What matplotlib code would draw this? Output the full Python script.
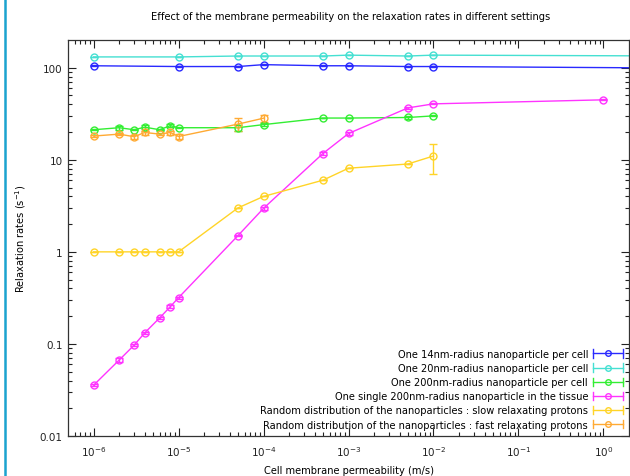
import matplotlib
matplotlib.use("Agg")
import matplotlib.pyplot as plt
from matplotlib.lines import Line2D
from matplotlib.legend_handler import HandlerBase
from matplotlib.ticker import FixedLocator, NullFormatter, LogFormatterSciNotation
import numpy as np

plt.rcParams['font.family'] = ['DejaVu Sans']
FS = 7.1
TFS = 7.5

# ---- data ----
x_a = [1e-6, 1e-5, 5e-5, 1e-4, 5e-4, 1e-3, 5e-3, 1e-2, 10]
x_b = [1e-6, 2e-6, 3e-6, 4e-6, 6e-6, 8e-6, 1e-5, 5e-5, 1e-4, 5e-4, 1e-3, 5e-3, 1e-2]
x_m = x_b + [1]
x_o = [1e-6, 2e-6, 3e-6, 4e-6, 6e-6, 8e-6, 1e-5, 5e-5, 1e-4]

blue_y = [105, 103, 103, 108, 105, 105, 103, 103, 99]
blue_e = [1, 1, 1, 1, 1, 1, 1, 1, 1]
cyan_y = [131, 131, 134, 134, 134, 137, 134, 137, 134]
cyan_e = [1, 1, 1, 1, 1, 1, 1, 1, 1]
green_y = [21.2, 22.3, 21.2, 22.6, 21.2, 23.5, 22.3, 22.3, 24.1, 28.4, 28.4, 28.8, 30.0]
green_e = [0.3, 1.0, 0.3, 1.0, 0.3, 1.0, 0.3, 1.5, 0.8, 0.3, 0.3, 0.8, 0.3]
mag_y = [0.0356, 0.0668, 0.097, 0.132, 0.192, 0.254, 0.318, 1.50, 2.97, 11.7, 19.3, 36.6, 40.5, 44.8]
mag_e = [0.001, 0.003, 0.003, 0.004, 0.006, 0.008, 0.008, 0.03, 0.1, 0.4, 0.5, 0.8, 0.5, 0.5]
yel_y = [1.0, 1.0, 1.0, 1.0, 1.0, 1.0, 1.0, 3.0, 4.0, 6.0, 8.1, 9.0, 11.0]
yel_e = [0, 0, 0, 0, 0, 0, 0, 0, 0, 0, 0, 0, 4.0]
ora_y = [18.1, 19.0, 17.8, 19.8, 19.0, 19.8, 17.9, 24.4, 28.3]
ora_e = [0.3, 0.5, 1.0, 1.0, 0.5, 1.0, 1.0, 4.0, 2.5]

x_ticks = [1e-6, 1e-5, 1e-4, 1e-3, 1e-2, 1e-1, 1e0]
y_ticks = [0.01, 0.1, 1, 10, 100]
y_ticklabels = ['0.01', '0.1', '1', '10', '100']

labels = [
    "One 14nm-radius nanoparticle per cell",
    "One 20nm-radius nanoparticle per cell",
    "One 200nm-radius nanoparticle per cell",
    "One single 200nm-radius nanoparticle in the tissue",
    "Random distribution of the nanoparticles : slow relaxating protons",
    "Random distribution of the nanoparticles : fast relaxating protons",
]
colors = ['#2a2aff', '#45e0d2', '#33ee33', '#ff33ff', '#ffd428', '#ffaa33']

series = [
    (x_a, blue_y, blue_e),
    (x_a, cyan_y, cyan_e),
    (x_b, green_y, green_e),
    (x_m, mag_y, mag_e),
    (x_b, yel_y, yel_e),
    (x_o, ora_y, ora_e),
]

fig = plt.figure(figsize=(6.30, 4.77), dpi=100)
ax = fig.add_axes([68/630, 1-437/477, 561/630, 396/477])

for (xs, ys, es), c in zip(series, colors):
    ax.errorbar(xs, ys, yerr=es, color=c, lw=1.0, marker='o', ms=5,
                mfc='none', mec=c, mew=1.0, capsize=3, elinewidth=1.0,
                capthick=1.0, clip_on=True)

ax.set_xscale('log')
ax.set_yscale('log')
ax.set_xlim(5e-7, 2)
ax.set_ylim(0.01, 200)

x_minor = [m * 10.0**e for e in range(-7, 1) for m in range(2, 10)
           if 5e-7 < m * 10.0**e < 2]
y_minor = [m * 10.0**e for e in range(-2, 3) for m in range(2, 10)
           if m * 10.0**e < 200]
ax.xaxis.set_major_locator(FixedLocator(x_ticks))
ax.xaxis.set_minor_locator(FixedLocator(x_minor))
ax.yaxis.set_major_locator(FixedLocator(y_ticks))
ax.yaxis.set_minor_locator(FixedLocator(y_minor))
ax.set_yticklabels(y_ticklabels)
ax.xaxis.set_major_formatter(LogFormatterSciNotation())
ax.xaxis.set_minor_formatter(NullFormatter())
ax.yaxis.set_minor_formatter(NullFormatter())

ax.tick_params(which='both', direction='in', top=True, right=True,
               labelsize=TFS, colors='#222222', width=0.8)
ax.tick_params(which='major', length=6)
ax.tick_params(which='minor', length=3)
ax.tick_params(axis='y', pad=4)
ax.tick_params(axis='x', pad=6)
for s in ax.spines.values():
    s.set_color('#333333')
    s.set_linewidth(0.9)


class CapHandler(HandlerBase):
    def create_artists(self, legend, orig_handle, xdescent, ydescent,
                       width, height, fontsize, trans):
        c = orig_handle.get_color()
        y = height / 2 - ydescent
        x0 = -xdescent
        x1 = x0 + width
        arts = [
            Line2D([x0, x1], [y, y], color=c, lw=1.0),
            Line2D([x0, x0], [y - 3, y + 3], color=c, lw=1.0),
            Line2D([x1, x1], [y - 3, y + 3], color=c, lw=1.0),
            Line2D([(x0 + x1) / 2], [y], marker='o', ms=4, mfc='none',
                   mec=c, mew=1.0, ls='none'),
        ]
        for a in arts:
            a.set_transform(trans)
        return arts


handles = [Line2D([], [], color=c) for c in colors]
leg = ax.legend(handles, labels, loc='lower right', frameon=False,
                fontsize=FS, markerfirst=False, handlelength=3.0,
                handletextpad=0.5, labelspacing=0.42,
                bbox_to_anchor=(1.0, 0.0), borderaxespad=0.25,
                handler_map={Line2D: CapHandler()})
for t in leg.get_texts():
    t.set_ha('right')

ax.set_title("Effect of the membrane permeability on the relaxation rates in different settings",
             fontsize=FS, pad=15, x=(351-68)/561)
ax.set_ylabel("Relaxation rates (s$^{-1}$)", fontsize=FS, labelpad=8)
ax.set_xlabel("Cell membrane permeability (m/s)", fontsize=FS, labelpad=5)

fig.add_artist(Line2D([5/630, 5/630], [0, 1], color='#1ba3cf', lw=1.8,
                      transform=fig.transFigure))

fig.savefig('out.png', dpi=100)
